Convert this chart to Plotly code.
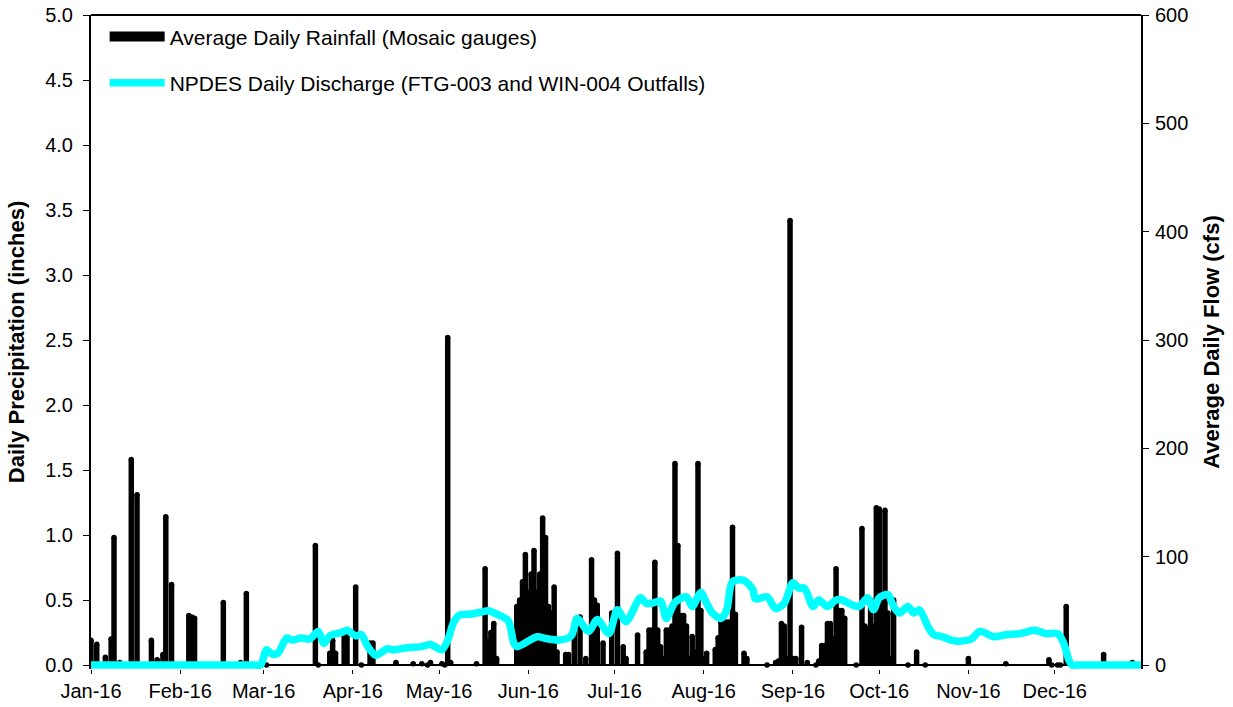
import pandas as pd
import plotly.graph_objects as go

# Day of year (0 = 1 Jan 2016) and average daily rainfall, inches
rain_doy = [0, 2, 5, 7, 8, 10, 14, 16, 21, 23, 25, 26, 28, 34, 35, 36, 46, 52, 54,
            61, 78, 79, 83, 84, 85, 88, 89, 92, 94, 97, 98, 106, 112, 115, 117, 118,
            122, 123, 124, 125, 134, 137, 138, 139, 140, 141,
            148, 149, 150, 151, 152, 153, 154, 155, 156, 157, 158, 159, 160, 161, 162,
            165, 166, 168, 170, 172, 174, 175, 176, 178, 181, 183, 185, 186, 190,
            193, 194, 195, 196, 197, 198, 199, 200, 201, 202, 203, 204, 205, 206, 207,
            208, 209, 210, 211, 212, 213, 214, 217, 218, 219, 220, 221, 222, 223, 224,
            227, 228, 235, 238, 239, 240, 241, 242, 243, 244, 245, 247, 249, 252, 253,
            254, 255, 256, 257, 258, 259, 260, 261, 262, 266, 268, 269, 270, 271, 272,
            273, 274, 275, 276, 277, 278, 279, 284, 287, 290, 305, 318, 333, 334, 336,
            337, 339, 352, 362]
rain_in = [0.19, 0.16, 0.06, 0.20, 0.98, 0.02, 1.58, 1.31, 0.19, 0.04, 0.08, 1.14, 0.62,
           0.38, 0.37, 0.36, 0.48, 0.02, 0.55,
           0.0, 0.92, 0.0, 0.09, 0.19, 0.09, 0.25, 0.25, 0.60, 0.0, 0.17, 0.17, 0.02,
           0.01, 0.01, 0.0, 0.02, 0.01, 0.0, 2.52, 0.02, 0.01, 0.74, 0.18, 0.25, 0.32, 0.05,
           0.45, 0.50, 0.64, 0.85, 0.56, 0.70, 0.88, 0.56, 0.70, 1.13, 0.98, 0.45, 0.40,
           0.60, 0.10,
           0.08, 0.08, 0.27, 0.37, 0.05, 0.81, 0.50, 0.46, 0.17, 0.40, 0.86, 0.14, 0.05,
           0.23,
           0.10, 0.27, 0.27, 0.79, 0.27, 0.14, 0.05, 0.27, 0.27, 0.30, 1.55, 0.92, 0.38,
           0.38, 0.30, 0.05, 0.22, 0.10, 1.55, 0.42, 0.05, 0.09, 0.12, 0.21, 0.33, 0.33,
           0.33, 0.33, 1.06, 0.39,
           0.09, 0.05, 0.0, 0.02, 0.03, 0.32, 0.30, 0.05, 3.42, 0.05, 0.05, 0.29, 0.02,
           0.0, 0.03,
           0.15, 0.15, 0.32, 0.32, 0.20, 0.74, 0.42, 0.42, 0.36, 0.0, 1.05, 0.30, 0.28,
           0.50, 0.30,
           1.21, 1.20, 0.50, 1.19, 0.40, 0.05, 0.50, 0.0, 0.10, 0.0, 0.05, 0.01, 0.04,
           0.0, 0.0,
           0.0, 0.45, 0.08, 0.02]

# Day of year and NPDES daily discharge (FTG-003 + WIN-004), cfs
flow_doy = [0, 30, 57, 59, 61, 63, 65, 68, 70, 73, 76, 79, 81, 83, 87, 89, 92, 94, 96, 99,
            103, 105, 110, 115, 118, 122, 124, 126, 128, 132, 136, 138, 141, 145,
            147, 148, 152, 155, 159, 163, 167, 169, 173, 176, 180, 183, 186, 191,
            193, 195, 198, 200, 203, 207, 209, 212, 214, 216, 219, 221, 223, 227,
            230, 231, 235, 238, 241, 244, 246, 248, 251, 253, 256, 259, 261, 265,
            267, 270, 272, 274, 277, 279, 281, 284, 286, 288, 291, 293, 296, 299,
            302, 306, 309, 314, 318, 323, 328, 332, 336, 338, 340, 341, 343, 355, 365]
flow_cfs = [0, 0, 0, 0, 14, 10, 11, 25, 23, 25, 24, 31, 20, 27, 30, 32, 27, 28, 18, 9,
            15, 14, 16, 17, 19, 14, 23, 39, 46, 47, 49, 50, 47, 41,
            20, 17, 22, 26, 24, 23, 27, 43, 31, 42, 29, 51, 40, 62,
            57, 57, 59, 43, 58, 63, 54, 67, 57, 48, 43, 51, 77, 78,
            70, 61, 63, 52, 57, 76, 71, 71, 54, 60, 54, 60, 60, 55,
            54, 62, 51, 62, 65, 54, 48, 54, 48, 51, 35, 28, 26, 23,
            22, 24, 31, 26, 28, 29, 32, 29, 29, 21, 4, 0, 0, 0, 0]

start = pd.Timestamp("2016-01-01")
rain_date = start + pd.to_timedelta(rain_doy, unit="D")
flow_date = start + pd.to_timedelta(flow_doy, unit="D")

FONT = "Liberation Sans, Arial, sans-serif"
DAY_MS = 86400000

# A little room below zero so the thick discharge line is not clipped at 0
PAD_PX = 4
PLOT_H = 707 - 15 - 38
RAIN_MAX, FLOW_MAX = 5.0, 600.0
rain_pad = PAD_PX * RAIN_MAX / (PLOT_H - PAD_PX)
flow_pad = PAD_PX * FLOW_MAX / (PLOT_H - PAD_PX)

fig = go.Figure()

# Rainfall bars with rounded tops
fig.add_trace(go.Bar(
    x=rain_date, y=rain_in, width=1.9 * DAY_MS,
    marker=dict(color="black", line=dict(width=0)),
    showlegend=False, hoverinfo="skip", yaxis="y",
))
fig.add_trace(go.Scatter(
    x=rain_date, y=rain_in, mode="markers",
    marker=dict(color="black", size=5.5, line=dict(width=0)),
    showlegend=False, hoverinfo="skip", yaxis="y",
))
# Legend entry for rainfall (wide black swatch)
fig.add_trace(go.Scatter(
    x=[None], y=[None], mode="lines",
    line=dict(color="black", width=15),
    name="Average Daily Rainfall (Mosaic gauges)", legendgroup="rain", yaxis="y",
))
# Discharge line on the right axis
fig.add_trace(go.Scatter(
    x=flow_date, y=flow_cfs, mode="lines",
    line=dict(color="#00FFFF", width=7.5, shape="spline", smoothing=0.8),
    name="NPDES Daily Discharge (FTG-003 and WIN-004 Outfalls)",
    legendgroup="flow", yaxis="y2", hoverinfo="skip",
))

axis_common = dict(
    linecolor="black", linewidth=2, showgrid=False,
    ticks="outside", ticklen=6, tickcolor="black", tickwidth=1, automargin=False,
    tickfont=dict(family=FONT, size=20, color="black"),
)

fig.update_layout(
    width=1233, height=707,
    margin=dict(l=91, r=92, t=15, b=38),
    paper_bgcolor="white", plot_bgcolor="white",
    barmode="overlay",
    xaxis=dict(
        type="date", range=["2016-01-01", "2016-12-31"],
        dtick="M1", tick0="2016-01-01", tickformat="%b-%y",
        showline=False, zeroline=False,
        **{**axis_common, "ticklen": 4},
    ),
    yaxis=dict(
        range=[-rain_pad, RAIN_MAX], tick0=0, dtick=0.5, tickformat=".1f",
        ticklabelstandoff=6, showline=True,
        zeroline=True, zerolinecolor="black", zerolinewidth=2,
        title=dict(text="<b>Daily Precipitation (inches)</b>",
                   font=dict(family=FONT, size=22, color="black"), standoff=14),
        **axis_common,
    ),
    yaxis2=dict(
        range=[-flow_pad, FLOW_MAX], tick0=0, dtick=100, overlaying="y", side="right",
        ticklabelstandoff=2, showline=True, zeroline=False,
        title=dict(text="<b>Average Daily Flow (cfs)</b>",
                   font=dict(family=FONT, size=22, color="black"), standoff=16),
        **axis_common,
    ),
    # top border of the plotting area
    shapes=[dict(type="line", xref="paper", yref="paper", x0=0, x1=1, y0=1, y1=1,
                 line=dict(color="black", width=2))],
    legend=dict(
        x=0.013, y=0.998, xanchor="left", yanchor="top",
        bgcolor="rgba(0,0,0,0)", itemwidth=55, tracegroupgap=16,
        font=dict(family=FONT, size=21, color="black"),
    ),
)

fig.write_html("out.html")
